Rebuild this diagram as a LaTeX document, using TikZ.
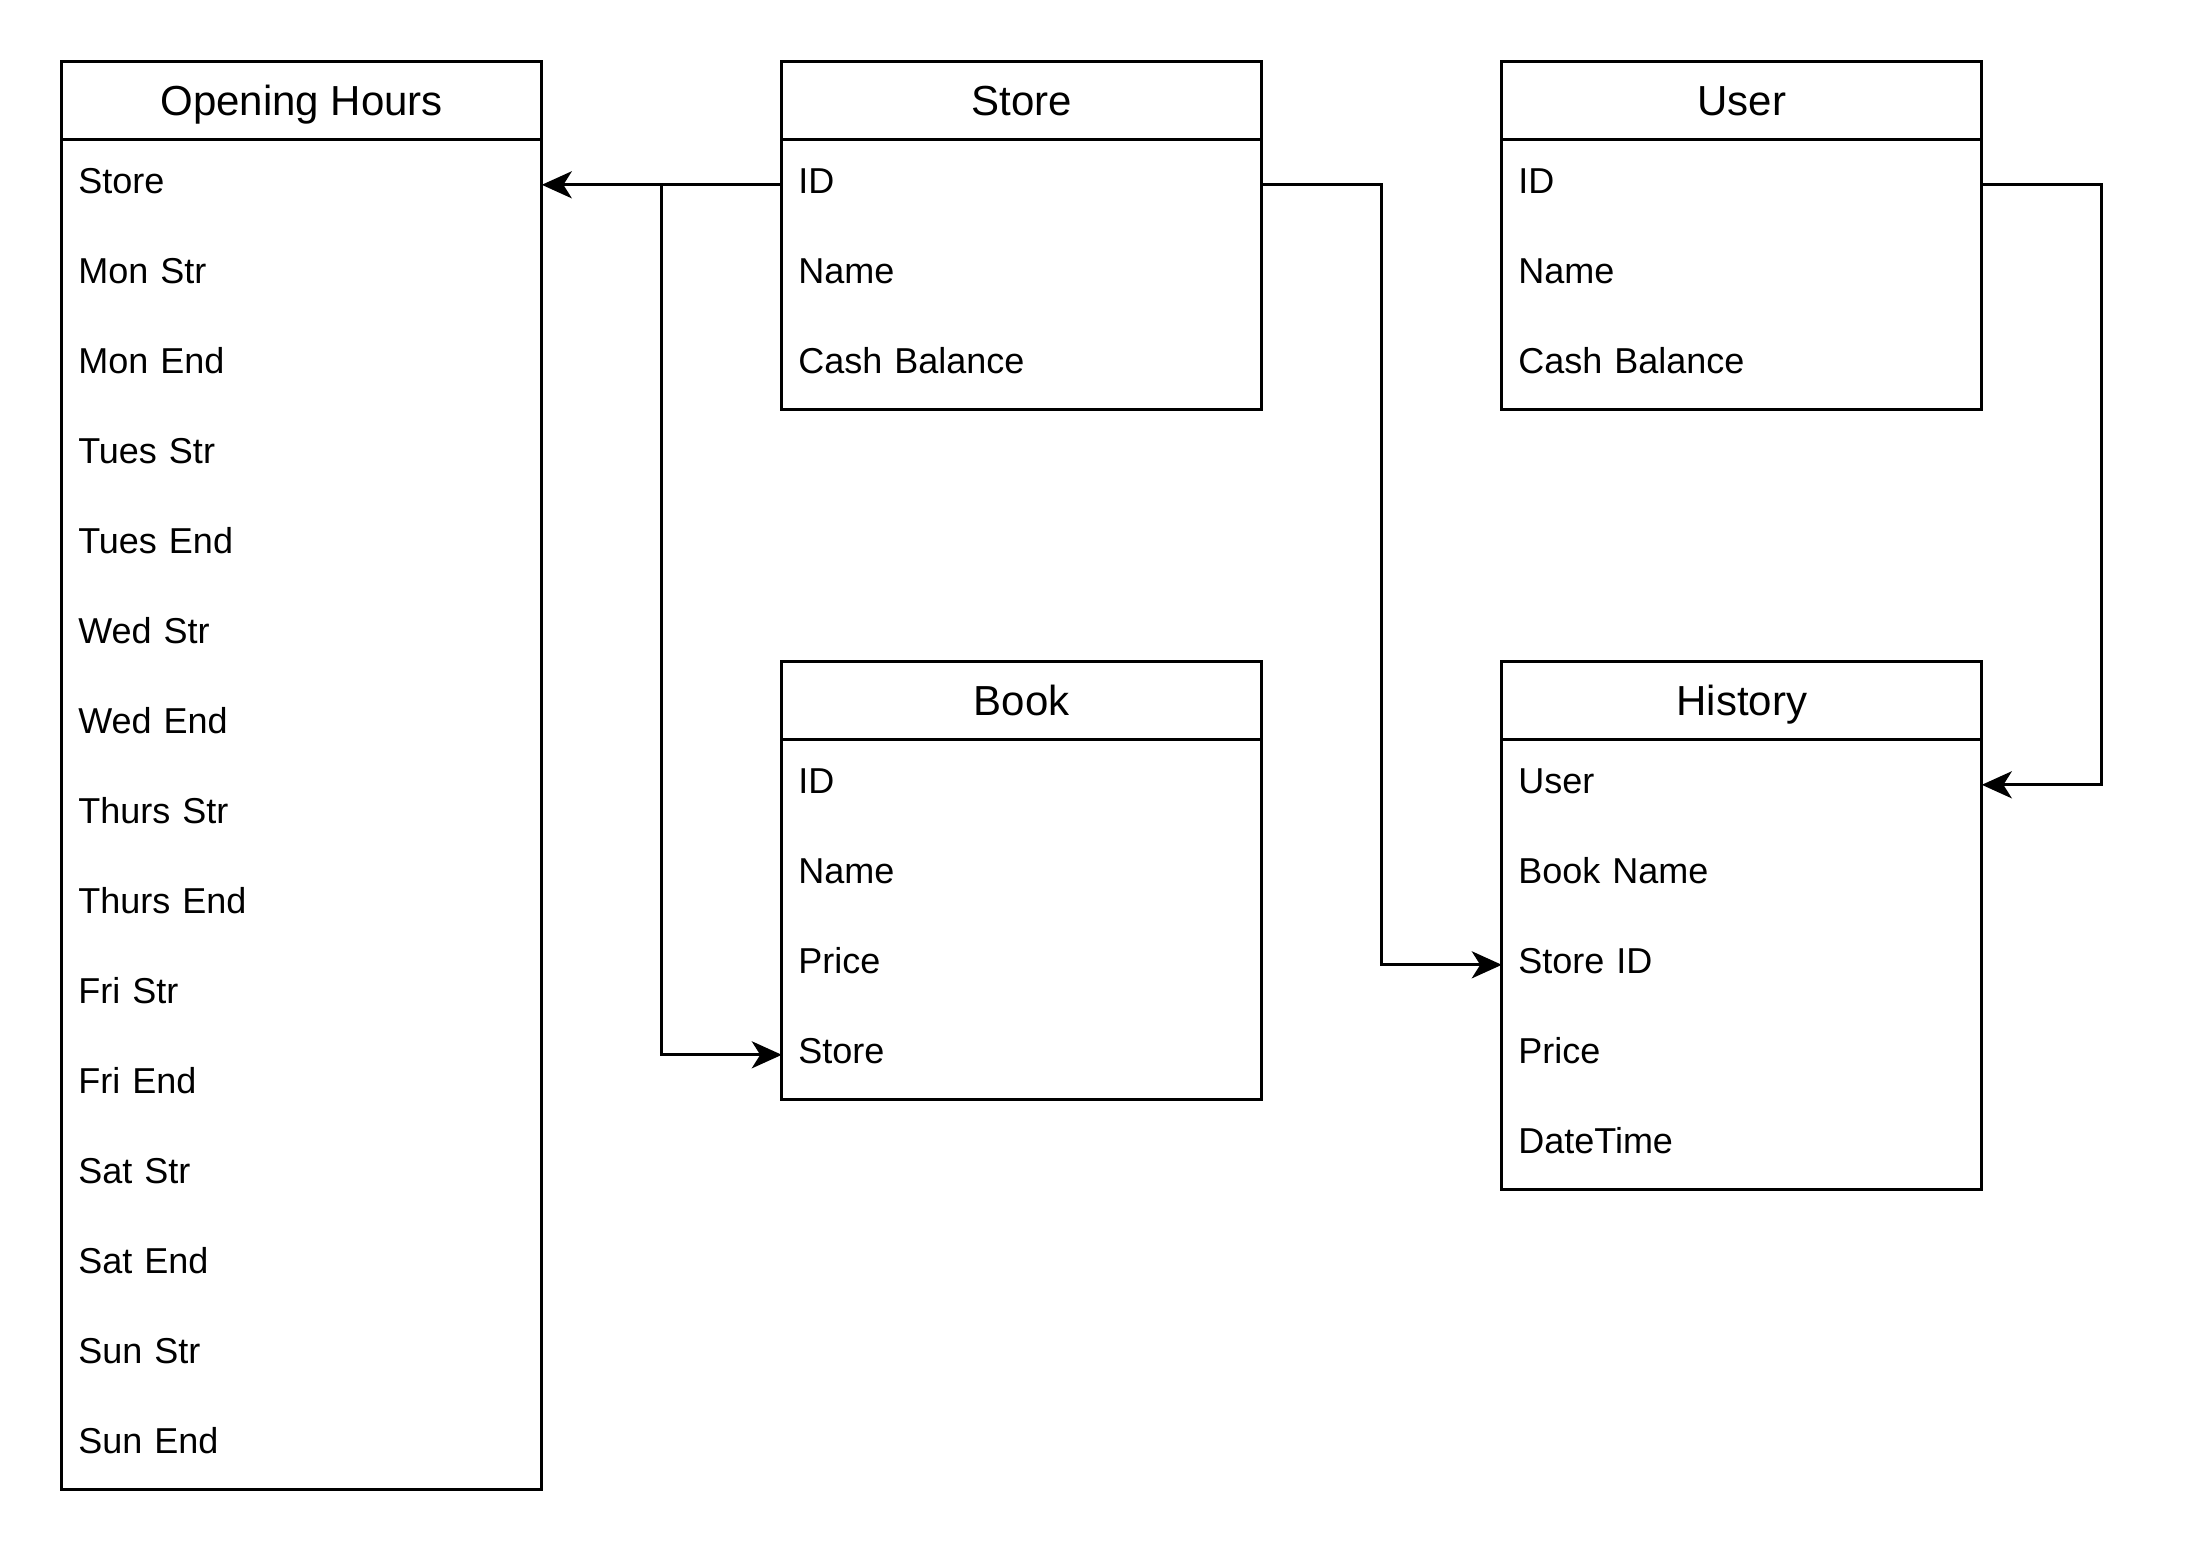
\documentclass[tikz,border=0pt]{standalone}
\usepackage{fontspec}
\setmainfont{Liberation Sans}
\usepackage{tikz}
\usetikzlibrary{positioning, fit, arrows.meta}
\tikzstyle{header} = [rectangle, draw, line width=1pt, minimum width=160pt, minimum height=26pt, inner sep=0pt, outer sep=0pt, text height=10pt, text depth=0pt, font=\fontsize{14}{16.8}\selectfont]
\tikzstyle{field} = [rectangle, minimum width=160pt, minimum height=30pt, inner xsep=5.5pt, inner ysep=0pt, outer sep=0pt, text width=149pt, align=left, text height=8.6pt, text depth=3pt, font=\fontsize{12}{14.4}\selectfont]
\tikzstyle{body} = [rectangle, draw, line width=1pt, inner sep=0pt, outer sep=0pt]
\tikzstyle{arrow} = [draw, -{Stealth[length=10pt, width=9pt, inset=2.8pt]}, line width=1pt]

\begin{document}
\begin{tikzpicture}[x=1pt, y=1pt]
    \useasboundingbox (-0.6,0.6) rectangle (728.4,-519.4);

    % tables
    \node (oh-0) [header] at (100,-33) {Opening Hours};
    \foreach \txt [count=\i, remember=\i as \last (initially 0)] in {Store, Mon Str, Mon End, Tues Str, Tues End, Wed Str, Wed End, Thurs Str, Thurs End, Fri Str, Fri End, Sat Str, Sat End, Sun Str, Sun End}
        \node (oh-\i) [field, below=0pt of oh-\last] {\txt};
    \node [body, fit=(oh-1)(oh-15)] {};

    \node (store-0) [header] at (340,-33) {Store};
    \node (store-1) [field, below=0pt of store-0] {ID};
    \node (store-2) [field, below=0pt of store-1] {Name};
    \node (store-3) [field, below=0pt of store-2] {Cash Balance};
    \node [body, fit=(store-1)(store-3)] {};

    \node (user-0) [header] at (580,-33) {User};
    \node (user-1) [field, below=0pt of user-0] {ID};
    \node (user-2) [field, below=0pt of user-1] {Name};
    \node (user-3) [field, below=0pt of user-2] {Cash Balance};
    \node [body, fit=(user-1)(user-3)] {};

    \node (book-0) [header] at (340,-233) {Book};
    \node (book-1) [field, below=0pt of book-0] {ID};
    \node (book-2) [field, below=0pt of book-1] {Name};
    \node (book-3) [field, below=0pt of book-2] {Price};
    \node (book-4) [field, below=0pt of book-3] {Store};
    \node [body, fit=(book-1)(book-4)] {};

    \node (hist-0) [header] at (580,-233) {History};
    \node (hist-1) [field, below=0pt of hist-0] {User};
    \node (hist-2) [field, below=0pt of hist-1] {Book Name};
    \node (hist-3) [field, below=0pt of hist-2] {Store ID};
    \node (hist-4) [field, below=0pt of hist-3] {Price};
    \node (hist-5) [field, below=0pt of hist-4] {DateTime};
    \node [body, fit=(hist-1)(hist-5)] {};

    % links
    \draw [arrow] (store-1.west) -- (oh-1.east);
    \draw [arrow] (store-1.west) -- ++(-40,0) |- (book-4.west);
    \draw [arrow] (store-1.east) -- ++(40,0) |- (hist-3.west);
    \draw [arrow] (user-1.east) -- ++(40,0) |- (hist-1.east);
\end{tikzpicture}
\end{document}
